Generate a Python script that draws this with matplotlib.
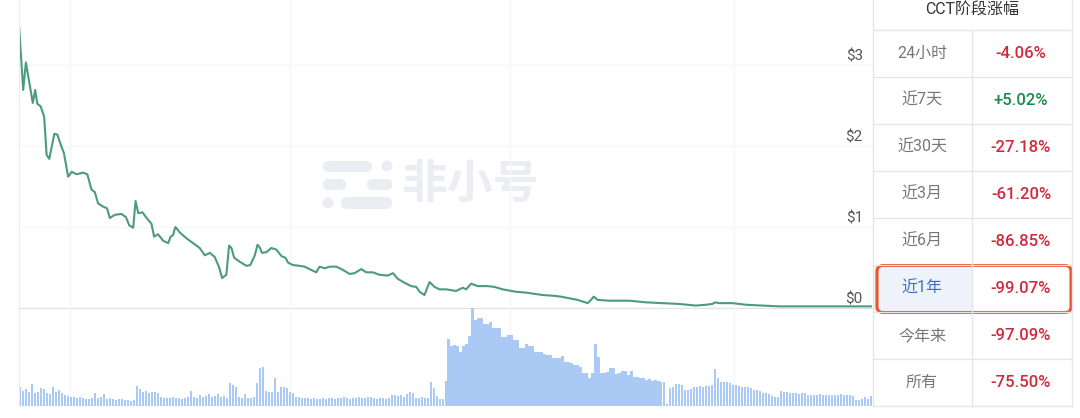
import numpy as np
import matplotlib
matplotlib.use("Agg")
import matplotlib.pyplot as plt
from matplotlib.patches import Rectangle, FancyBboxPatch, Circle
from matplotlib.transforms import blended_transform_factory

plt.rcParams['font.family'] = ['Roboto', 'Noto Sans CJK SC', 'DejaVu Sans']

# price line (x = period index, y = USD)
price_day = [0, 1.4, 2.3, 4.6, 5.4, 6.1, 7.2, 8.4, 9.2, 10.1, 11.8, 12.8, 13.7, 15, 16.4, 17.6,
             19.2, 21.4, 22.8, 24.2, 25.3, 26.4, 28.1, 29.4, 30.3, 32, 34.2, 35.7, 36.8, 38.1,
             38.9, 39.8, 41.2, 42.6, 44.2, 45.1, 46.4, 48.1, 49.8, 50.6, 51.4, 52.2, 53.7, 55.9,
             58.1, 60.3, 62, 63.7, 65.3, 66.7, 67.8, 69.2, 70.1, 70.9, 71.8, 73.7, 75.9, 77.2,
             78.7, 79.6, 80.3, 81.1, 82.6, 84.2, 85.9, 87.6, 88.9, 89.8, 91.4, 93.7, 95.3, 97,
             99.2, 100.3, 102, 103.7, 105.9, 108.1, 110.3, 112, 114.2, 115.9, 118.1, 120.3, 123.1,
             124.8, 126.4, 128.7, 130.9, 132.6, 133.7, 135.3, 137, 138.7, 140.3, 142.6, 145.9,
             148.1, 149.2, 150.9, 153.1, 156.4, 158.7, 161.4, 165.9, 169.2, 174.8, 178.7, 180.9,
             183.7, 186.4, 189.8, 190.9, 191.8, 193.1, 197, 203.7, 209.2, 214.8, 220.3, 225.9,
             229.2, 231.4, 232.3, 233.7, 238.1, 242.6, 248.1, 253.7, 259.2, 264.8, 270.3, 275.9,
             284.3]
price_usd = [3.49, 2.69, 3.03, 2.53, 2.69, 2.52, 2.49, 2.36, 1.89, 1.84, 2.15, 2.14, 2.04, 1.91,
             1.62, 1.68, 1.65, 1.67, 1.65, 1.46, 1.43, 1.29, 1.25, 1.23, 1.11, 1.15, 1.16, 1.12,
             1.02, 0.99, 1.32, 1.17, 1.18, 1.11, 1.04, 0.88, 0.91, 0.83, 0.80, 0.88, 0.90, 1.00,
             0.93, 0.86, 0.80, 0.74, 0.65, 0.68, 0.63, 0.51, 0.37, 0.41, 0.77, 0.74, 0.62, 0.57,
             0.52, 0.53, 0.65, 0.78, 0.75, 0.68, 0.69, 0.74, 0.72, 0.64, 0.62, 0.56, 0.53, 0.52,
             0.51, 0.48, 0.44, 0.51, 0.49, 0.51, 0.51, 0.47, 0.42, 0.43, 0.48, 0.44, 0.44, 0.41,
             0.40, 0.43, 0.36, 0.31, 0.27, 0.26, 0.20, 0.16, 0.32, 0.26, 0.23, 0.23, 0.21, 0.25,
             0.23, 0.30, 0.27, 0.27, 0.26, 0.23, 0.20, 0.19, 0.16, 0.15, 0.14, 0.12, 0.10, 0.06,
             0.10, 0.14, 0.10, 0.09, 0.09, 0.07, 0.06, 0.05, 0.03, 0.04, 0.05, 0.07, 0.06, 0.06,
             0.04, 0.03, 0.02, 0.02, 0.02, 0.02, 0.02, 0.02]

# trading volume per period (relative units)
volume = [19, 15, 17, 14, 22, 13, 14, 18, 17, 13, 12, 19, 14, 16,
          13, 11, 10, 9, 9, 8, 9, 8,
          7, 7, 8, 13, 8, 9, 12,
          7, 8, 7, 6, 7, 7, 6, 6, 5, 6, 20,
          17, 14, 15, 13, 14, 14, 13,
          9, 8, 8, 8, 9, 8, 8, 7, 8, 9, 15,
          9, 8, 11, 9, 10, 12, 9,
          10, 12, 9, 10, 8, 23, 21, 19,
          9, 8, 12, 8, 8, 9, 23, 38, 39,
          15, 14, 14, 28, 14, 19, 19, 18, 14, 13,
          9, 9, 8, 8,
          8, 7, 8, 7, 7, 8, 7, 8, 8, 7, 8, 8, 9, 8,
          7, 8, 8, 9, 8, 8, 9, 9, 8, 7, 8, 8, 7, 8,
          11, 11, 10, 11, 9, 12, 14, 13, 8, 8, 9, 8, 8,
          24, 18, 10, 7, 7, 25, 67,
          60, 61, 60, 54, 60, 62, 70, 98, 86, 88, 88,
          82, 82, 84, 78, 78, 78, 69, 69, 71, 71, 66, 66,
          58, 58, 62, 60, 60, 54, 54, 54, 52, 51, 51, 48, 48,
          48, 50, 44, 44, 43, 41, 41, 39, 33, 33, 28, 33, 62, 49,
          33, 33, 34, 38, 38, 32, 33, 35, 35, 31, 35, 29, 29, 28,
          28, 26, 27, 25, 26, 25, 24, 24, 2,
          18, 19, 22, 22, 21, 16, 16, 17, 19, 19, 20, 19, 20, 20, 21,
          37, 28, 24, 24, 24, 23, 21, 21, 20, 19, 19, 19, 18,
          16, 16, 15, 13, 13, 12, 10, 9, 9, 15, 14, 14,
          13, 13, 13, 12, 13, 13,
          11, 11, 11, 11, 12, 11, 11, 11,
          11, 11, 11, 12, 11, 11, 11, 10,
          6, 6, 7, 9, 7, 10]

price_ticks = [0, 1, 2, 3]
price_tick_labels = ['$0', '$1', '$2', '$3']
month_ticks = [17, 90.3, 164, 238.7]

table_title = 'CCT阶段涨幅'
period_labels = ['24小时', '近7天', '近30天', '近3月', '近6月', '近1年', '今年来', '所有']
period_changes = [-4.06, 5.02, -27.18, -61.20, -86.85, -99.07, -97.09, -75.50]
highlight = '近1年'

W, H = 1080, 418
fig = plt.figure(figsize=(W / 100, H / 100), dpi=100)


def px_axes(x0, y0, x1, y1, **kw):
    return fig.add_axes([x0 / W, 1 - y1 / H, (x1 - x0) / W, (y1 - y0) / H], **kw)


# background layer with the watermark
bg = px_axes(0, 0, W, H, zorder=0)
bg.set_xlim(0, W)
bg.set_ylim(H, 0)
bg.axis('off')
wm = '#eaedf1'
for x0, y0, x1, y1 in [(323, 161, 372, 172), (323, 179, 346, 190), (367, 179, 392, 190), (341, 197, 392, 209)]:
    h = y1 - y0
    bg.add_patch(FancyBboxPatch((x0, y0), x1 - x0, h, boxstyle=f'round,pad=0,rounding_size={h / 2}',
                                fc=wm, ec='none'))
bg.add_patch(Circle((387, 166), 5.5, fc=wm, ec='none'))
bg.add_patch(Circle((328, 203), 5.5, fc=wm, ec='none'))
bg.text(471, 186, '非小号', fontsize=33, fontweight='bold', color=wm, ha='center', va='center',
        family='Noto Sans CJK SC')

# price panel
ax = px_axes(19, 0, 873, 308, zorder=2)
ax.set_facecolor('none')
ax.plot(price_day, price_usd, color='#4c9b7d', lw=1.5, solid_joinstyle='round')
ax.set_xlim(0, len(volume))
ax.set_ylim(0, 3.8)
ax.set_yticks(price_ticks)
ax.set_xticks(month_ticks)
ax.grid(color='#f6f6f6', lw=1)
ax.tick_params(length=0, labelleft=False, labelbottom=False)
for s in ['top', 'right']:
    ax.spines[s].set_visible(False)
ax.spines['left'].set_color('#ebebeb')
ax.spines['bottom'].set_color('#e2e2e2')
tr = blended_transform_factory(ax.transAxes, ax.transData)
for v, lab in zip(price_ticks, price_tick_labels):
    ax.text(0.988, v + 0.02, lab, transform=tr, ha='right', va='bottom', fontsize=11, color='#555555')

# volume panel
vax = px_axes(19, 308, 873, 406, zorder=2)
vax.set_facecolor('none')
vax.bar(np.arange(len(volume)), volume, width=0.75, align='edge', color='#aac9f5', lw=0)
vax.set_xlim(0, len(volume))
vax.set_ylim(0, 98)
vax.set_xticks(month_ticks)
vax.set_yticks([])
vax.grid(axis='x', color='#f6f6f6', lw=1)
vax.set_axisbelow(True)
vax.tick_params(length=0, labelbottom=False)
for s in ['top', 'right', 'bottom']:
    vax.spines[s].set_visible(False)
vax.spines['left'].set_color('#ebebeb')

# table of period changes
tax = px_axes(872, 0, 1073, 406, zorder=3)
tax.set_xlim(0, 201)
tax.set_ylim(406, 0)
tax.axis('off')
line_c = '#e6e6e6'
row_h = 47
top = 30
hi = period_labels.index(highlight)
tax.add_patch(Rectangle((0.5, top + hi * row_h), 99, row_h, fc='#eef3fb', ec='none'))
tax.plot([0.5, 0.5], [0, 406], color=line_c, lw=1, clip_on=False)
tax.plot([200, 200], [0, 406], color=line_c, lw=1, clip_on=False)
tax.plot([99.5, 99.5], [top, 406], color=line_c, lw=1, clip_on=False)
for k in range(len(period_labels) + 1):
    y = top + k * row_h
    tax.plot([0.5, 200], [y, y], color=line_c, lw=1, clip_on=False)

tax.text(100, 10, table_title, ha='center', va='center', fontsize=11.5, color='#333333')
for k, (lab, val) in enumerate(zip(period_labels, period_changes)):
    yc = top + k * row_h + row_h / 2
    lab_c = '#3b6fc4' if lab == highlight else '#777777'
    tax.text(50, yc, lab, ha='center', va='center', fontsize=11.5, color=lab_c)
    val_c = '#1c8a4a' if val > 0 else '#cf2a3e'
    tax.text(149, yc, f'{val:+.2f}%', ha='center', va='center', fontsize=12,
             fontweight='medium', color=val_c)

tax.add_patch(FancyBboxPatch((5, top + hi * row_h + 0.5), 194, row_h, boxstyle='round,pad=0,rounding_size=6',
                             fc='none', ec='#e8542a', lw=2.2, clip_on=False))

fig.savefig('out.png', dpi=100)
